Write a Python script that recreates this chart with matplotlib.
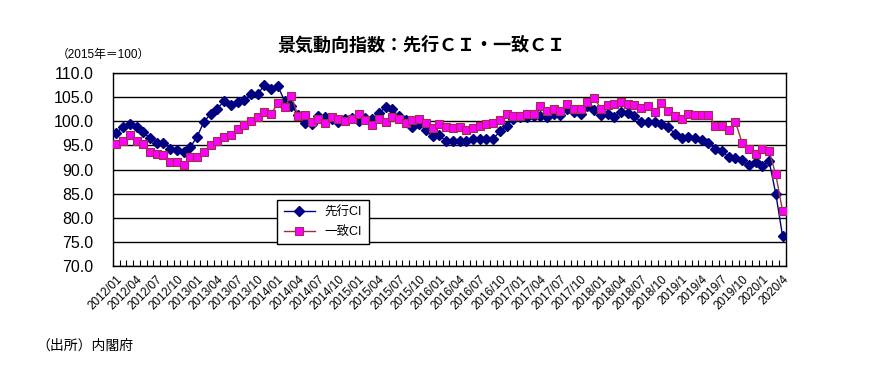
import numpy as np
import matplotlib
matplotlib.use("Agg")
import matplotlib.pyplot as plt

plt.rcParams['font.family'] = ['Liberation Sans', 'Noto Sans CJK JP', 'DejaVu Sans']

# 先行CI (2012/01 - 2020/04, 月次)
senko = [97.6, 98.9, 99.4, 98.9, 97.7, 96.5, 95.6, 95.6, 94.3, 94.1,
         93.6, 94.7, 96.8, 99.9, 101.5, 102.6, 104.2, 103.4, 103.9, 104.4,
         105.6, 105.6, 107.5, 106.6, 107.3, 104.2, 103.2, 101.3, 99.7, 99.4,
         101.2, 100.9, 100.5, 99.8, 100.5, 100.7, 100.1, 100.6, 100.5, 101.7,
         102.9, 102.5, 101.0, 100.3, 98.9, 99.4, 98.1, 96.9, 97.1, 95.9,
         96.0, 96.0, 96.0, 96.3, 96.4, 96.4, 96.4, 97.9, 99.1, 100.5,
         100.8, 100.9, 101.0, 101.0, 100.9, 101.6, 101.3, 102.5, 102.0, 101.6,
         103.1, 102.3, 101.4, 101.5, 100.8, 102.0, 101.8, 101.0, 99.9, 99.9,
         99.9, 99.4, 98.9, 97.4, 96.5, 96.8, 96.5, 96.2, 95.5, 94.3,
         93.8, 92.6, 92.4, 91.9, 90.9, 91.5, 90.7, 91.8, 85.0, 76.3]

# 一致CI
itchi = [95.2, 96.0, 97.2, 95.9, 95.2, 93.7, 93.2, 93.1, 91.6, 91.6,
         91.0, 92.5, 92.5, 93.7, 95.1, 95.9, 96.7, 97.2, 98.4, 99.3,
         100.1, 100.8, 102.0, 101.6, 103.7, 103.0, 105.2, 101.1, 101.3, 99.9,
         100.4, 99.7, 100.8, 100.4, 100.1, 100.5, 101.5, 100.3, 99.2, 100.4,
         99.9, 100.8, 100.4, 99.7, 100.3, 100.5, 99.7, 98.6, 99.4, 98.9,
         98.6, 98.9, 98.1, 98.7, 99.1, 99.4, 99.7, 100.3, 101.5, 101.2,
         101.1, 101.5, 101.6, 103.1, 102.2, 102.6, 102.2, 103.5, 102.6, 102.6,
         103.9, 104.9, 102.6, 103.4, 103.6, 103.9, 103.5, 103.3, 102.8, 103.1,
         101.9, 103.7, 102.2, 101.1, 100.4, 101.6, 101.4, 101.4, 101.4, 99.1,
         99.1, 98.1, 99.9, 95.5, 94.3, 93.3, 94.3, 93.8, 89.0, 81.5]

# 3か月ごとの目盛ラベル
labels = ["2012/01", "2012/04", "2012/07", "2012/10", "2013/01", "2013/04",
          "2013/07", "2013/10", "2014/01", "2014/04", "2014/07", "2014/10",
          "2015/01", "2015/04", "2015/07", "2015/10", "2016/01", "2016/04",
          "2016/07", "2016/10", "2017/01", "2017/04", "2017/07", "2017/10",
          "2018/01", "2018/04", "2018/07", "2018/10", "2019/1", "2019/4",
          "2019/7", "2019/10", "2020/1", "2020/4"]

x = np.arange(len(senko))

fig = plt.figure(figsize=(8.9, 3.67), dpi=100)
ax = fig.add_axes([0.127, 0.275, 0.756, 0.526])

ax.plot(x, senko, color="#000080", lw=1, marker="D", ms=5,
        mfc="#000080", mec="#000080", label="先行CI", zorder=3)
ax.plot(x, itchi, color="#993344", lw=1, marker="s", ms=6,
        mfc="#FF00FF", mec="#993344", mew=0.8, label="一致CI", zorder=4)

ax.set_xlim(-0.5, len(senko) - 0.5)
ax.set_ylim(70, 110)
ax.set_yticks(np.arange(70, 110.1, 5))
ax.set_yticklabels([f"{v:.1f}" for v in np.arange(70, 110.1, 5)], fontsize=11.5)
ax.yaxis.grid(True, color="black", lw=1)
ax.set_axisbelow(True)
ax.tick_params(axis="y", length=0, pad=14)

ax.set_xticks(np.arange(0, len(senko), 3))
ax.set_xticklabels(labels, rotation=45, ha="right", rotation_mode="anchor", fontsize=8.5)
ax.set_xticks(np.arange(-0.5, len(senko), 1), minor=True)
ax.tick_params(axis="x", which="major", length=0, pad=5)
ax.tick_params(axis="x", which="minor", direction="in", length=4, width=0.8)

for s in ax.spines.values():
    s.set_color("black")
    s.set_linewidth(1)

leg = ax.legend(loc="lower left", bbox_to_anchor=(0.235, 0.08), fontsize=9,
                frameon=True, fancybox=False, edgecolor="black", framealpha=1,
                handlelength=2.5, borderpad=0.5, labelspacing=0.6)
leg.get_frame().set_linewidth(1)

fig.text(0.474, 0.875, "景気動向指数：先行ＣＩ・一致ＣＩ", ha="center", va="center",
         fontsize=13, fontweight="bold")
fig.text(0.064, 0.85, "（2015年＝100）", ha="left", va="center", fontsize=8.5)
fig.text(0.041, 0.058, "（出所）内閣府", ha="left", va="center", fontsize=10)

plt.savefig("out.png", dpi=100)
